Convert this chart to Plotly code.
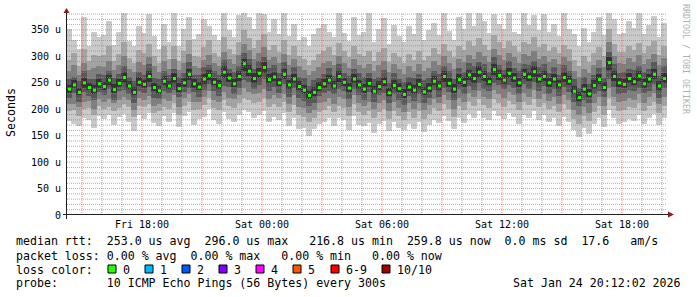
import pandas as pd
import plotly.graph_objects as go

# ---------------- data ----------------
series_start = "2026-01-23 14:15"
step_minutes = 15

median_rtt = [238,246,232,250,241,236,248, 243,255,237,249,260,244,232,251, 247,262,241,235,253,244,258,239,250,266,248,242, 257,264,251,245,270,259,248,262, 286,272,258,268,279,256, 261,250,266,246,257,243, 236,226,232,241, 248,255,244,262,251,240,257,246, 238,249,234,243,252,231,245,239, 228,242,236,247,233,240, 253,244,262,249,238,256,251,265, 258,270,262,252,275,264, 255,268,259,250,266,261,271,257, 262,250,257,246,260,253, 234,222,238,229, 245,256,241,288,262,250,247,258, 252,263,248,257,266,244,258]

smoke_lo_1 = [178,172,168,183,180,165,188, 182,190,170,186,191,176,158,189, 182,193,174,168,187,176,192,166,188,195,170,181, 185,200,179,172,194,181,176,190, 198,194,183,190,197,176, 185,180,192,168,184,162, 164,150,162,172, 176,184,168,183,180,160,188,171, 168,174,155,173,178,158,175,164, 160,172,162,175,157,170, 180,174,188,177,162,184,174,191, 184,196,183,180,197,187, 182,193,186,172,190,184,196,180, 189,176,183,168,186,176, 160,148,165,153, 172,183,166,198,184,172,176,182, 178,190,173,183,191,170,184]
smoke_lo_2 = [196,198,188,200,203,190,206, 201,205,197,203,209,204,186,207, 204,210,193,197,205,200,212,190,207,214,199,200, 208,221,203,198,217,207,203,211, 222,217,212,214,222,204, 210,205,213,194,208,189, 186,176,183,195, 198,206,194,207,203,187,210,195, 190,196,183,195,200,181,196,187, 180,194,184,196,181,191, 203,196,210,201,185,206,198,213, 207,219,208,203,220,211, 205,216,210,198,213,208,219,204, 211,200,207,194,209,201, 182,173,187,177, 195,206,190,221,207,197,199,205, 202,212,196,206,213,193,207]
smoke_lo_3 = [210,209,205,214,216,201,219, 214,219,211,217,224,218,199,221, 218,225,207,210,219,215,226,204,221,229,213,214, 223,235,218,213,232,222,219,226, 240,233,228,231,238,220, 226,221,229,210,226,205, 203,192,199,211, 214,222,210,223,219,204,226,211, 206,213,200,212,217,197,213,203, 195,211,200,212,198,208, 219,212,226,218,201,222,214,230, 223,235,224,220,236,228, 221,232,227,214,230,224,236,220, 228,216,224,210,226,217, 198,189,204,193, 211,223,206,240,224,213,215,222, 218,229,212,223,230,209,224]
smoke_lo_4 = [222,230,214,233,225,218,232, 226,238,218,235,237,228,212,234, 231,242,222,220,234,230,237,224,233,241,232,223, 236,247,235,225,244,242,229,240, 255,252,238,245,258,234, 243,230,247,224,240,222, 216,207,212,225, 230,234,228,238,235,219,239,226, 217,233,214,226,231,212,228,218, 208,225,215,229,212,222, 236,223,240,232,217,238,229,244, 237,250,239,235,250,245, 238,245,241,229,247,238,251,235, 244,229,239,225,242,232, 213,206,217,212, 228,234,223,258,242,229,230,236, 235,240,231,235,247,222,240]
smoke_lo_5 = [231,240,226,241,236,229,240, 237,246,231,243,249,238,227,244, 240,251,235,229,246,239,249,233,243,255,241,236, 248,256,245,238,259,251,242,253, 272,263,250,259,268,249, 253,244,257,239,250,236, 229,220,225,234, 241,247,238,252,244,233,249,239, 231,242,228,236,244,225,238,232, 222,235,229,239,226,233, 246,237,252,242,231,248,243,255, 250,260,254,245,264,256, 248,259,251,243,257,253,261,249, 254,243,249,239,252,246, 228,216,231,223, 238,248,234,274,253,243,240,250, 245,254,241,249,257,237,250]
smoke_hi_5 = [244,253,239,258,247,244,255, 250,262,245,256,268,251,240,259, 254,270,248,243,261,251,266,247,257,275,255,250, 265,272,258,253,279,267,256,270, 294,281,266,277,288,264, 269,258,274,254,265,251, 244,233,240,249, 256,263,252,270,258,248,265,253, 246,257,242,251,260,239,253,247, 236,250,244,255,241,248, 261,252,270,257,246,264,259,273, 266,279,270,260,284,272, 263,276,267,258,274,269,280,265, 270,258,265,254,268,261, 242,230,246,237, 253,264,249,297,270,258,255,266, 260,271,256,265,274,252,266]
smoke_hi_4 = [256,260,252,270,255,255,264, 262,271,257,265,280,260,252,268, 263,283,257,256,270,263,275,259,266,288,263,262, 278,281,270,262,292,275,269,279, 305,294,275,290,297,277, 282,267,287,263,278,260, 257,242,253,258, 265,276,261,283,267,261,274,266, 259,266,255,260,273,248,266,256, 249,259,257,264,254,257, 270,265,279,270,255,277,268,286, 279,288,283,269,297,281, 272,289,276,271,283,282,289,278, 283,267,278,263,281,270, 255,239,259,246, 262,277,258,307,283,267,268,275, 273,280,269,274,287,261,279]
smoke_hi_3 = [270,281,263,285,272,276,280, 278,290,272,282,299,275,268,287, 282,296,279,268,290,274,293,272,285,303,280,277, 292,301,285,279,306,293,284,300, 322,310,293,305,316,291, 297,286,303,282,294,279, 272,262,270,278, 285,290,281,299,286,277,293,282, 276,284,270,281,289,268,283,274, 265,279,271,284,270,276, 290,281,298,286,275,293,287,301, 294,307,299,288,312,301, 291,304,296,286,302,298,309,293, 298,287,293,283,296,290, 271,260,275,266, 282,292,278,325,299,286,284,295, 288,300,284,294,302,281,295]
smoke_hi_2 = [291,305,280,312,290,301,298, 300,318,289,303,326,295,285,311, 305,322,298,285,317,293,318,290,309,330,299,296, 316,329,304,297,334,312,303,325, 348,333,314,329,340,310, 320,307,330,301,318,298, 293,281,292,302, 308,315,300,324,309,296,318,303, 299,308,290,306,314,287,305,296, 286,302,292,309,291,298, 314,303,322,309,296,318,310,327, 317,332,320,310,338,325, 313,328,318,307,326,321,335,315, 322,309,316,304,320,312, 292,280,298,287, 304,316,299,350,322,307,306,318, 310,324,305,317,327,301,318]
smoke_hi_1 = [350,330,312,372,318,345,335, 338,365,320,344,385,327,318,356, 342,378,336,312,360,325,382,318,350,372,331,340, 368,355,338,330,385,348,335,376, 385,372,350,381,378,345, 368,340,385,336,360,330, 335,318,340,352, 360,345,334,385,342,328,372,338, 345,382,325,350,370,322,358,336, 325,356,340,385,330,348, 362,338,380,346,330,372,350,384, 356,385,365,342,378,360, 350,380,345,340,385,358,376,348, 378,345,360,336,385,350, 340,318,352,325, 345,372,338,385,368,340,342,365, 352,380,340,358,375,335,362]

smoke_colors = ["#cacaca", "#a4a4a4", "#7e7e7e", "#585858", "#323232"]

x_tick_times = ["2026-01-23 18:00", "2026-01-24 00:00", "2026-01-24 06:00",
                "2026-01-24 12:00", "2026-01-24 18:00"]
x_tick_labels = ["Fri 18:00", "Sat 00:00", "Sat 06:00", "Sat 12:00", "Sat 18:00"]
y_tick_values = [0, 50, 100, 150, 200, 250, 300, 350]
y_tick_labels = ["0", "50 u", "100 u", "150 u", "200 u", "250 u", "300 u", "350 u"]

loss_labels = ["0", "1", "2", "3", "4", "5", "6-9", "10/10"]
loss_colors = ["#26ff00", "#00b8ff", "#0059ff", "#7e00ff", "#ff00ff", "#ff5500", "#ff0000", "#a10000"]

legend_line_rtt = "median rtt:  253.0 us avg  296.0 us max   216.8 us min  259.8 us now  0.0 ms sd  17.6   am/s"
legend_line_loss = "packet loss: 0.00 % avg  0.00 % max   0.00 % min   0.00 % now"
legend_line_color = "loss color:"
probe_text = "10 ICMP Echo Pings (56 Bytes) every 300s"
stamp_text = "Sat Jan 24 20:12:02 2026"

# ---------------- geometry ----------------
W, H = 697, 297
PL, PR, PT, PB = 67, 667, 13, 215
YMAX = 382

def px(x):
    return (x - PL) / (PR - PL)

def py(y):
    return (PB - y) / (PB - PT)

def nb(s):
    return s.replace(" ", "\u00a0")

start = pd.Timestamp(series_start)
step = pd.Timedelta(minutes=step_minutes)
n = len(median_rtt)
t_center = [start + step * (i + 0.5) for i in range(n)]
x_end = start + pd.Timedelta(hours=30)

fig = go.Figure()

bands = [(smoke_lo_1, smoke_hi_1), (smoke_lo_2, smoke_hi_2), (smoke_lo_3, smoke_hi_3),
         (smoke_lo_4, smoke_hi_4), (smoke_lo_5, smoke_hi_5)]
for (lo, hi), col in zip(bands, smoke_colors):
    fig.add_trace(go.Bar(
        x=t_center, y=[h - l for h, l in zip(hi, lo)], base=lo,
        width=step_minutes * 60 * 1000,
        marker=dict(color=col, line=dict(width=1, color=col)),
        hoverinfo="skip"))

# grid drawn above the smoke, as rrdtool does
hours = pd.date_range(start.ceil("h"), x_end, freq="h")
minor_v = [h for h in hours if h.hour % 3 != 0]
major_v = [h for h in hours if h.hour % 3 == 0]
minor_h = [v for v in range(10, YMAX, 10) if v % 50 != 0]
major_h = [v for v in range(50, YMAX, 50)]

def vlines(times):
    xs, ys = [], []
    for tt in times:
        xs += [tt, tt, None]
        ys += [0, YMAX, None]
    return xs, ys

def hlines(vals):
    xs, ys = [], []
    for v in vals:
        xs += [start, x_end, None]
        ys += [v, v, None]
    return xs, ys

grid_minor = "rgba(143,143,143,0.75)"
grid_major = "rgba(222,79,79,0.6)"
for fn, vals, col in [(vlines, minor_v, grid_minor), (hlines, minor_h, grid_minor),
                      (vlines, major_v, grid_major), (hlines, major_h, grid_major)]:
    xs, ys = fn(vals)
    fig.add_trace(go.Scatter(x=xs, y=ys, mode="lines",
                             line=dict(color=col, width=1, dash="1px,1px"),
                             hoverinfo="skip", connectgaps=False))

fig.add_trace(go.Scatter(
    x=t_center, y=median_rtt, mode="markers",
    marker=dict(symbol="square", size=3, color=loss_colors[0], line=dict(width=0)),
    hoverinfo="skip"))

mono = "DejaVu Sans Mono"
fig.update_layout(
    width=W, height=H,
    margin=dict(l=PL, r=W - PR, t=PT, b=H - PB),
    paper_bgcolor="white", plot_bgcolor="white",
    showlegend=False, barmode="overlay", bargap=0,
    font=dict(family=mono, size=10, color="black"),
)
fig.update_xaxes(
    type="date", range=[start, x_end], showgrid=False, zeroline=False, showline=False,
    tickmode="array", tickvals=x_tick_times, ticktext=x_tick_labels,
    ticks="", ticklabelstandoff=2, tickfont=dict(family=mono, size=10, color="black"),
)
fig.update_yaxes(
    range=[0, YMAX], showgrid=False, zeroline=False, showline=False,
    tickmode="array", tickvals=y_tick_values, ticktext=y_tick_labels,
    ticks="", ticklabelstandoff=5, tickfont=dict(family=mono, size=10, color="black"),
)

shapes = []
axis_col = "#1f1f1f"
arrow_col = "#801f1f"
# axes
shapes.append(dict(type="line", xref="paper", yref="paper",
                   x0=px(63), x1=px(669), y0=py(214.5), y1=py(214.5),
                   line=dict(color=axis_col, width=1)))
shapes.append(dict(type="line", xref="paper", yref="paper",
                   x0=px(66.5), x1=px(66.5), y0=py(219), y1=py(11),
                   line=dict(color=axis_col, width=1)))
# arrows
shapes.append(dict(type="path", xref="paper", yref="paper",
                   path=f"M {px(668)} {py(211.5)} L {px(674)} {py(214.5)} L {px(668)} {py(217.5)} Z",
                   fillcolor=arrow_col, line=dict(width=0)))
shapes.append(dict(type="path", xref="paper", yref="paper",
                   path=f"M {px(63.5)} {py(13)} L {px(66.5)} {py(8)} L {px(69.5)} {py(13)} Z",
                   fillcolor=arrow_col, line=dict(width=0)))

annotations = []
FS = 11.6

def text_at(x, y, s, size=FS, color="black", anchor="left", angle=0, yanchor="middle"):
    annotations.append(dict(xref="paper", yref="paper", x=px(x), y=py(y), text=nb(s),
                            showarrow=False, xanchor=anchor, yanchor=yanchor, textangle=angle,
                            font=dict(family=mono, size=size, color=color),
                            borderpad=0, borderwidth=0))

text_at(15.5, 241.5, legend_line_rtt)
text_at(15.5, 255.5, legend_line_loss)
text_at(15.5, 269.5, legend_line_color)
text_at(15.5, 283, "probe:       " + probe_text)
text_at(681, 283, stamp_text, anchor="right")

square_x = [108, 145, 182, 219, 256, 293, 331, 382]
for sx, lab, col in zip(square_x, loss_labels, loss_colors):
    shapes.append(dict(type="rect", xref="paper", yref="paper",
                       x0=px(sx), x1=px(sx + 8), y0=py(273), y1=py(265),
                       fillcolor=col, line=dict(color="black", width=1)))
    text_at(sx + 14.5, 269.5, lab)

# y title and credit
annotations.append(dict(xref="paper", yref="paper", x=px(11), y=py(113), text="Seconds",
                        showarrow=False, textangle=-90, xanchor="center", yanchor="middle",
                        font=dict(family=mono, size=FS, color="black")))
annotations.append(dict(xref="paper", yref="paper", x=px(686), y=py(59),
                        text=nb("RRDTOOL / TOBI OETIKER"),
                        showarrow=False, textangle=90, xanchor="center", yanchor="middle",
                        font=dict(family=mono, size=8.3, color="#b0b0b0")))

fig.update_layout(shapes=shapes, annotations=annotations)
fig.write_html("out.html")
